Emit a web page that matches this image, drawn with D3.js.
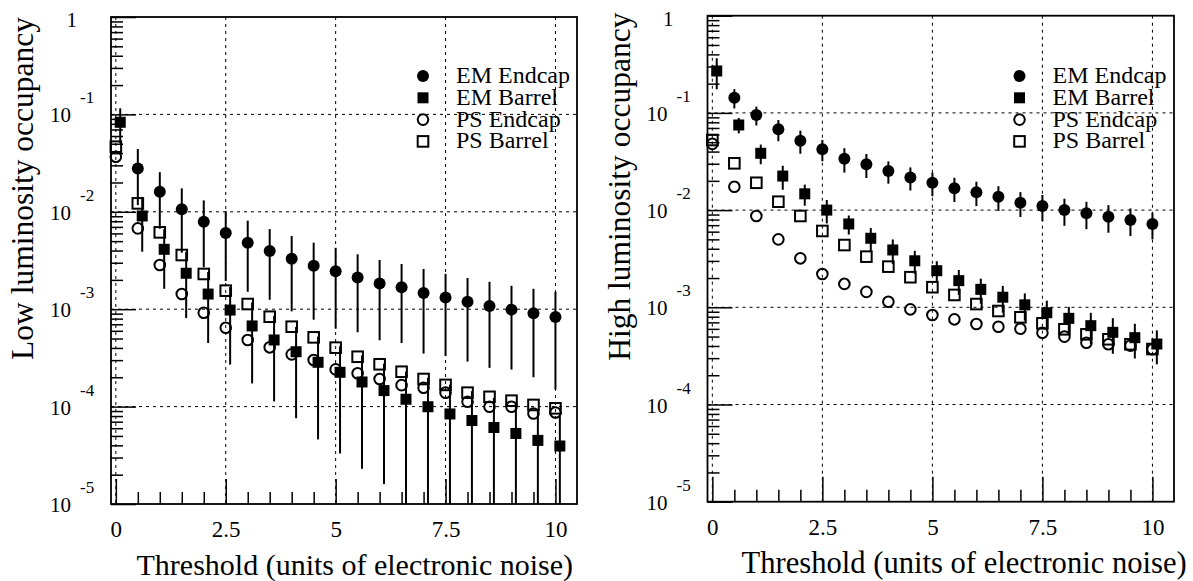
<!DOCTYPE html>
<html>
<head>
<meta charset="utf-8">
<script src="https://cdn.jsdelivr.net/npm/d3@7"></script>
<style>
    body { margin: 0; background: #fff; }
    svg { font-family: 'Liberation Serif', 'Times New Roman', serif; }
</style>
</head>
<body>
<svg width="1193" height="581"></svg>
<script>
// thresholds (units of electronic noise)
const xEMEndcap = [0.5, 1, 1.5, 2, 2.5, 3, 3.5, 4, 4.5, 5, 5.5, 6, 6.5, 7, 7.5, 8, 8.5, 9, 9.5, 10]
const xEMBarrel = [0.1, 0.6, 1.1, 1.6, 2.1, 2.6, 3.1, 3.6, 4.1, 4.6, 5.1, 5.6, 6.1, 6.6, 7.1, 7.6, 8.1, 8.6, 9.1, 9.6, 10.1]
const xPS = [0, 0.5, 1, 1.5, 2, 2.5, 3, 3.5, 4, 4.5, 5, 5.5, 6, 6.5, 7, 7.5, 8, 8.5, 9, 9.5, 10]

// low luminosity
const lowEMEndcap = [0.0279, 0.0161, 0.0106, 0.0079, 0.00605, 0.00481, 0.00395, 0.0033, 0.0028, 0.00245, 0.00212, 0.00184, 0.00168, 0.00147, 0.00132, 0.00119, 0.00108, 0.00099, 0.00091, 0.00083]
const lowEMEndcapErr = [0.0162, 0.0094, 0.0068, 0.0052, 0.0041, 0.0033, 0.0027, 0.00235, 0.00202, 0.00182, 0.00154, 0.00136, 0.00123, 0.00112, 0.00099, 0.0009, 0.00083, 0.00075, 0.00071, 0.00068]
const lowEMBarrel = [0.083, 0.00906, 0.00412, 0.00234, 0.00143, 0.00098, 0.000673, 0.000483, 0.000366, 0.000285, 0.000225, 0.000179, 0.000146, 0.000119, 0.0000997, 0.000084, 0.000072, 0.000061, 0.000053, 0.000045, 0.0000394]
const lowEMBarrelErr = [0.0325, 0.00517, 0.0025, 0.00153, 0.00098, 0.00071, 0.0005, 0.00037, 0.00029, 0.000239, 0.000192, 0.000156, 0.00013, 0.00011, 0.000098, 0.000084, 0.000072, 0.000062, 0.000055, 0.000047, 0.000041]
const lowPSEndcap = [0.0368, 0.00676, 0.00284, 0.00143, 0.00092, 0.000646, 0.000483, 0.000406, 0.000344, 0.000301, 0.000241, 0.00022, 0.000192, 0.000166, 0.000156, 0.000139, 0.000112, 0.0000997, 0.0000997, 0.000085, 0.000087]
const lowPSBarrel = [0.0466, 0.0122, 0.00615, 0.0036, 0.0023, 0.00155, 0.00113, 0.000837, 0.000661, 0.000514, 0.000403, 0.000325, 0.000272, 0.000228, 0.000192, 0.000167, 0.000139, 0.000126, 0.000115, 0.000104, 0.000096]

// high luminosity
const highEMEndcap = [0.1433, 0.0951, 0.0678, 0.0518, 0.0422, 0.0338, 0.0296, 0.0252, 0.0217, 0.0191, 0.0168, 0.0153, 0.0137, 0.0119, 0.011, 0.01, 0.00927, 0.00855, 0.0079, 0.0072]
const highEMEndcapErr = [0.032, 0.0208, 0.0167, 0.0138, 0.0104, 0.0095, 0.0082, 0.0065, 0.0058, 0.0052, 0.0047, 0.0043, 0.0039, 0.0034, 0.0033, 0.0031, 0.0029, 0.0027, 0.0025, 0.0022]
const highEMBarrel = [0.27, 0.0751, 0.0384, 0.0224, 0.0147, 0.01, 0.0072, 0.00513, 0.00389, 0.00301, 0.00238, 0.00188, 0.00153, 0.00127, 0.00106, 0.00088, 0.00077, 0.000647, 0.000553, 0.000487, 0.000419]
const highEMBarrelErr = [0.095, 0.0135, 0.0088, 0.0062, 0.0036, 0.0027, 0.0016, 0.0014, 0.0011, 0.0008, 0.0006, 0.00054, 0.00044, 0.00039, 0.00033, 0.00029, 0.00024, 0.00023, 0.00022, 0.00019, 0.00016]
const highPSEndcap = [0.048, 0.0174, 0.0087, 0.005, 0.00319, 0.0022, 0.00174, 0.00144, 0.00114, 0.000953, 0.000834, 0.000752, 0.000673, 0.000631, 0.000602, 0.000548, 0.000499, 0.000432, 0.000416, 0.000403, 0.00037]
const highPSBarrel = [0.0526, 0.0303, 0.0191, 0.0122, 0.0087, 0.0061, 0.00437, 0.00332, 0.00262, 0.00204, 0.00161, 0.00134, 0.00108, 0.000916, 0.000789, 0.000684, 0.000594, 0.000527, 0.000469, 0.000416, 0.000372]

// axes
const xMajorTicks = [0, 2.5, 5, 7.5, 10]
const xMinorTicks = [0.5, 1, 1.5, 2, 3, 3.5, 4, 4.5, 5.5, 6, 6.5, 7, 8, 8.5, 9, 9.5]
const yExponents = [0, -1, -2, -3, -4, -5]
const yMinorMantissa = [2, 3, 4, 5, 6, 7, 8, 9]
const legendNames = ['EM Endcap', 'EM Barrel', 'PS Endcap', 'PS Barrel']
const legendMarkers = ['fullCircle', 'fullSquare', 'openCircle', 'openSquare']

const xDomain = [-0.11, 10.49]
const yDomain = [1e-5, 1]

const svg = d3.select('svg')

const zip = (xs, ys, es) => xs.map((x, i) => ({ x, y: ys[i], e: es ? es[i] : 0 }))

const panels = [
    {
        left: 111, right: 577, top: 17, bottom: 504,
        yLabel: 'Low luminosity occupancy',
        xLabelX: 136.5, xLabelSize: 30,
        series: [
            { marker: 'fullCircle', data: zip(xEMEndcap, lowEMEndcap, lowEMEndcapErr) },
            { marker: 'fullSquare', data: zip(xEMBarrel, lowEMBarrel, lowEMBarrelErr) },
            { marker: 'openCircle', data: zip(xPS, lowPSEndcap) },
            { marker: 'openSquare', data: zip(xPS, lowPSBarrel) },
        ],
    },
    {
        left: 707.5, right: 1174, top: 15.7, bottom: 501.7,
        yLabel: 'High luminosity occupancy',
        xLabelX: 741.5, xLabelSize: 30.6,
        series: [
            { marker: 'fullCircle', data: zip(xEMEndcap, highEMEndcap, highEMEndcapErr) },
            { marker: 'fullSquare', data: zip(xEMBarrel, highEMBarrel, highEMBarrelErr) },
            { marker: 'openCircle', data: zip(xPS, highPSEndcap) },
            { marker: 'openSquare', data: zip(xPS, highPSBarrel) },
        ],
    },
]

function drawMarker(sel, type) {
    if (type === 'fullCircle') {
        sel.append('circle').attr('r', 6).attr('fill', '#000')
    } else if (type === 'fullSquare') {
        sel.append('rect').attr('x', -5.5).attr('y', -5.5).attr('width', 11).attr('height', 11).attr('fill', '#000')
    } else if (type === 'openCircle') {
        sel.append('circle').attr('r', 5.3).attr('fill', 'none').attr('stroke', '#000').attr('stroke-width', 2)
    } else {
        sel.append('rect').attr('x', -5.3).attr('y', -5.3).attr('width', 10.6).attr('height', 10.6)
            .attr('fill', 'none').attr('stroke', '#000').attr('stroke-width', 2)
    }
}

function drawPanel(p) {
    const x = d3.scaleLinear().domain(xDomain).range([p.left, p.right])
    const y = d3.scaleLog().domain(yDomain).range([p.bottom, p.top])
    const g = svg.append('g')

    //grid
    const grid = g.append('g').attr('stroke', '#000').attr('stroke-width', 1).attr('stroke-dasharray', '3,4')
    grid.selectAll('line.vgrid').data(xMajorTicks).join('line')
        .attr('x1', (d) => x(d)).attr('x2', (d) => x(d))
        .attr('y1', p.top).attr('y2', p.bottom)
    grid.selectAll('line.hgrid').data(yExponents.slice(1, -1)).join('line')
        .attr('x1', p.left).attr('x2', p.right)
        .attr('y1', (d) => y(Math.pow(10, d))).attr('y2', (d) => y(Math.pow(10, d)))

    //ticks
    const tickStyle = (s) => {
        s.select('.domain').remove()
        s.selectAll('.tick line').attr('stroke', '#000').attr('stroke-width', 1.5)
    }
    g.append('g').attr('transform', `translate(0, ${p.bottom})`)
        .call(d3.axisBottom(x).tickValues(xMinorTicks).tickSize(-12).tickFormat(''))
        .call(tickStyle)
    g.append('g').attr('transform', `translate(0, ${p.bottom})`)
        .call(d3.axisBottom(x).tickValues(xMajorTicks).tickSize(-25).tickPadding(16.5).tickFormat(d3.format('')))
        .call(tickStyle)
        .call((s) => s.selectAll('text').attr('font-size', 23).attr('font-family', 'Liberation Serif').attr('fill', '#000'))

    const yMinor = []
    yExponents.slice(1).forEach((k) => yMinorMantissa.forEach((m) => yMinor.push(m * Math.pow(10, k))))
    g.append('g').attr('transform', `translate(${p.left}, 0)`)
        .call(d3.axisLeft(y).tickValues(yMinor).tickSize(-12).tickFormat(''))
        .call(tickStyle)
    g.append('g').attr('transform', `translate(${p.left}, 0)`)
        .call(d3.axisLeft(y).tickValues(yExponents.map((k) => Math.pow(10, k))).tickSize(-25).tickFormat(''))
        .call(tickStyle)

    //y tick labels
    yExponents.forEach((k) => {
        const yy = y(Math.pow(10, k))
        if (k === 0) {
            g.append('text').attr('x', p.left - 34).attr('y', yy + 10)
                .attr('text-anchor', 'end').attr('font-size', 21).text('1')
            return
        }
        g.append('text').attr('x', p.left - 40).attr('y', yy + 8)
            .attr('text-anchor', 'end').attr('font-size', 21).text('10')
        g.append('text').attr('x', p.left - 31).attr('y', yy - 11)
            .attr('font-size', 17).text(k)
    })

    //frame
    g.append('rect')
        .attr('x', p.left).attr('y', p.top)
        .attr('width', p.right - p.left).attr('height', p.bottom - p.top)
        .attr('fill', 'none').attr('stroke', '#000').attr('stroke-width', 1.8)

    //labels
    g.append('text')
        .attr('transform', `translate(${p.left - 78}, ${(p.top + p.bottom) / 2 - 72}) rotate(-90)`)
        .attr('text-anchor', 'middle').attr('font-size', 31.5)
        .text(p.yLabel)
    g.append('text')
        .attr('x', p.xLabelX).attr('y', p.bottom + 71)
        .attr('font-size', p.xLabelSize)
        .text('Threshold (units of electronic noise)')

    //data
    const dataContainer = g.append('g')
    p.series.forEach((s) => {
        const withErr = s.data.filter((d) => d.e > 0)
        dataContainer.append('g').selectAll('line').data(withErr).join('line')
            .attr('x1', (d) => x(d.x)).attr('x2', (d) => x(d.x))
            .attr('y1', (d) => y(Math.min(d.y + d.e, 1)))
            .attr('y2', (d) => y(Math.max(d.y - d.e, 1e-5)))
            .attr('stroke', '#000').attr('stroke-width', 2)
        dataContainer.append('g').selectAll('g').data(s.data).join('g')
            .attr('transform', (d) => `translate(${x(d.x)}, ${y(d.y)})`)
            .each(function () { drawMarker(d3.select(this), s.marker) })
    })

    //legend
    const legend = g.append('g').attr('class', 'legend-container')
    legendNames.forEach((name, i) => {
        const ly = 76 + i * 21.8
        const item = legend.append('g').attr('transform', `translate(${p.left + 312}, ${ly})`)
        drawMarker(item, legendMarkers[i])
        legend.append('text').attr('x', p.left + 345).attr('y', ly + 7)
            .attr('font-size', 24).text(name)
    })
}

panels.forEach(drawPanel)
</script>
</body>
</html>
